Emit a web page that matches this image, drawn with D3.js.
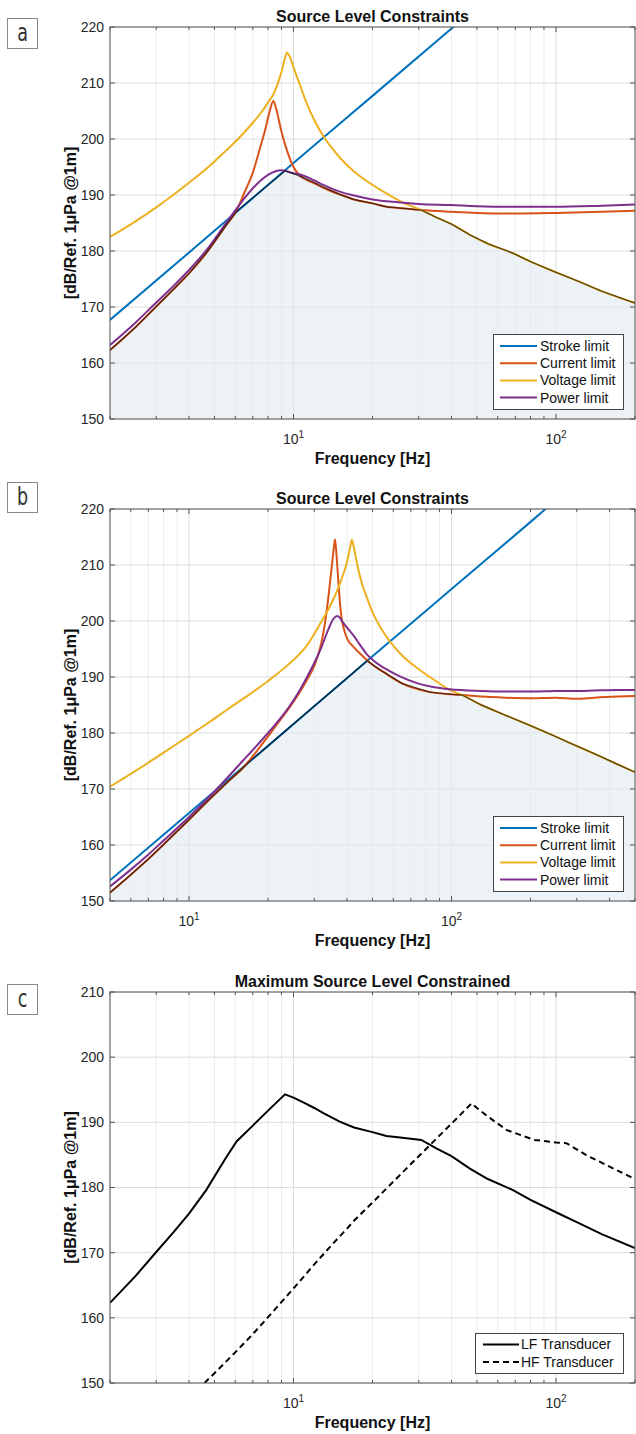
<!DOCTYPE html>
<html><head><meta charset="utf-8">
<script src="https://cdn.jsdelivr.net/npm/d3@7"></script>
<style>body{margin:0;background:#fff}svg{display:block}</style>
</head><body>
<svg id="chart" width="636" height="1434"></svg>
<script>
// ---------- Panel a (LF transducer constraints) ----------
const aStrokeFreq = [2, 5, 10, 20, 50];
const aStrokeLevel = [167.7, 183.6, 195.7, 207.7, 223.6];
const aCurrentFreq = [2, 2.5, 3, 3.5, 4, 4.65, 5.5, 6.08, 6.5, 7, 7.5, 7.8, 8.1, 8.38, 8.6, 9, 9.5, 10, 10.5, 11, 12, 13, 15, 17, 20, 22.6, 25, 30.7, 40, 50, 70, 100, 150, 200];
const aCurrentLevel = [162.3, 166.4, 170.1, 173.2, 176.0, 179.6, 184.4, 187.3, 190.4, 194.0, 198.8, 201.6, 204.8, 206.8, 205.3, 201.3, 197.6, 195.0, 193.6, 192.9, 192.1, 191.3, 190.1, 189.2, 188.5, 187.9, 187.7, 187.3, 187.0, 186.8, 186.7, 186.8, 187.0, 187.2];
const aVoltageFreq = [2, 2.5, 3, 3.5, 4, 4.5, 5, 5.5, 6, 6.5, 7, 7.5, 8, 8.38, 8.7, 9, 9.25, 9.44, 9.7, 10, 10.6, 11.2, 12, 13, 14, 15, 17, 19, 22, 26, 30.7, 35, 40, 47, 55, 68.6, 80, 100, 120, 150, 200];
const aVoltageLevel = [182.5, 185.3, 187.8, 190.1, 192.2, 194.1, 196.0, 197.8, 199.5, 201.2, 202.9, 204.6, 206.5, 208.0, 209.8, 212.0, 214.2, 215.4, 214.6, 212.8, 209.6, 206.5, 203.4, 200.5, 198.4, 196.7, 194.2, 192.5, 190.6, 188.7, 187.3, 186.0, 184.8, 182.9, 181.3, 179.6, 178.1, 176.2, 174.7, 172.8, 170.7];
const aPowerFreq = [2, 2.5, 3, 3.5, 4, 4.65, 5.5, 6.08, 6.5, 7, 7.5, 8, 8.5, 9, 9.28, 9.5, 10, 10.5, 11, 12, 13, 15, 17, 20, 25, 30, 40, 50, 70, 100, 150, 200];
const aPowerLevel = [163.2, 167.2, 170.8, 173.8, 176.6, 180.1, 184.8, 187.6, 189.4, 191.2, 192.6, 193.6, 194.2, 194.4, 194.35, 194.2, 193.9, 193.7, 193.4, 192.6, 191.8, 190.6, 189.9, 189.2, 188.7, 188.4, 188.2, 188.0, 187.9, 187.9, 188.1, 188.3];

// ---------- Panel b (HF transducer constraints) ----------
const bStrokeFreq = [5, 10, 20, 50, 100, 200, 300];
const bStrokeLevel = [153.7, 165.7, 177.7, 193.7, 205.7, 217.7, 224.8];
const bCurrentFreq = [5, 6, 7, 8, 10, 12, 14, 16, 18, 20, 22, 24, 26, 28, 30, 31, 32, 33, 34, 35, 35.6, 36, 36.5, 37, 37.5, 38, 39, 40, 42.5, 45, 47.7, 50, 55, 65, 82.7, 100, 109.6, 130, 160, 200, 250, 300, 350, 433, 500];
const bCurrentLevel = [151.5, 154.7, 157.5, 160.1, 164.5, 168.2, 171.2, 173.7, 176.6, 179.4, 182.0, 184.4, 186.8, 189.3, 192.0, 193.9, 196.3, 199.8, 204.5, 209.8, 213.0, 214.6, 211.5, 207.5, 203.8, 201.0, 198.4, 196.9, 195.3, 194.1, 193.0, 192.2, 190.9, 188.8, 187.3, 186.9, 186.8, 186.5, 186.3, 186.2, 186.3, 186.1, 186.3, 186.5, 186.6];
const bVoltageFreq = [5, 6, 7, 8, 10, 12, 14, 17, 20, 24, 28, 31.5, 35.4, 38, 40, 41, 41.7, 42.5, 44, 45.5, 47.5, 50, 54, 58.3, 65, 76, 87, 98.4, 109.6, 130, 160, 200, 240, 283, 350, 420, 500];
const bVoltageLevel = [170.4, 172.7, 174.7, 176.5, 179.5, 182.0, 184.2, 186.9, 189.3, 192.3, 195.5, 199.4, 203.8, 207.3, 210.6, 212.9, 214.5, 213.0, 209.5, 206.8, 204.3, 201.6, 198.6, 196.3, 193.8, 191.2, 189.3, 187.7, 186.8, 185.0, 183.2, 181.3, 179.7, 178.2, 176.3, 174.6, 173.0];
const bPowerFreq = [5, 6, 7, 8, 10, 12, 14, 16, 18, 20, 22, 24, 26, 28, 30, 32, 34, 35.5, 36.7, 37.5, 38.5, 40, 42.5, 45, 47.5, 50, 56.8, 63, 73.8, 85, 98.4, 130, 160, 205, 250, 300, 350, 433, 500];
const bPowerLevel = [152.6, 155.6, 158.3, 160.8, 165.0, 168.7, 172.0, 175.0, 177.6, 180.0, 182.3, 184.6, 187.1, 189.8, 192.5, 195.4, 198.6, 200.4, 200.9, 200.6, 199.8, 198.8, 197.3, 195.6, 194.1, 193.1, 191.3, 190.2, 188.9, 188.2, 187.8, 187.5, 187.4, 187.4, 187.5, 187.5, 187.6, 187.7, 187.7];

// ---------- Maximum constrained source level (envelopes, panel c) ----------
const lfFreq = [2, 2.5, 3, 3.5, 4, 4.65, 5.5, 6.08, 7, 8, 9.28, 10, 11, 12, 13, 15, 17, 20, 22.6, 25, 30.7, 35, 40, 47, 55, 68.6, 80, 100, 120, 150, 200];
const lfLevel = [162.3, 166.4, 170.1, 173.2, 176.0, 179.6, 184.4, 187.1, 189.5, 191.8, 194.3, 193.8, 193.0, 192.2, 191.4, 190.1, 189.2, 188.5, 187.9, 187.7, 187.3, 186.0, 184.8, 182.9, 181.3, 179.6, 178.1, 176.2, 174.7, 172.8, 170.7];
const hfFreq = [4.58, 5, 6, 7, 8, 10, 12, 14, 16, 17, 20, 30, 40, 47.7, 50, 55, 65, 82.7, 100, 109.6, 130, 160, 200, 240, 283, 350, 420, 500];
const hfLevel = [150.0, 151.5, 154.7, 157.5, 160.1, 164.5, 168.2, 171.2, 173.7, 174.9, 177.7, 184.8, 189.8, 192.9, 192.2, 190.9, 188.8, 187.3, 186.9, 186.8, 185.0, 183.2, 181.3, 179.7, 178.2, 176.3, 174.6, 173.0];

const limitNames = ["Stroke limit", "Current limit", "Voltage limit", "Power limit"];
const limitColors = ["#0072BD", "#D95319", "#EDB120", "#7E2F8E"];
const transducerNames = ["LF Transducer", "HF Transducer"];
const titles = ["Source Level Constraints", "Source Level Constraints", "Maximum Source Level Constrained"];
const yLabelText = "[dB/Ref. 1\u03bcPa @1m]";
const xLabelText = "Frequency [Hz]";
const panelLetters = ["a", "b", "c"];

const zip = (f, v) => f.map((d, i) => ({f: d, v: v[i]}));

const panels = [
  {letter: panelLetters[0], title: titles[0], top: 27, bottom: 419, xDom: [2, 200], yDom: [150, 220], boxY: 18, kind: "limits",
   series: [zip(aStrokeFreq, aStrokeLevel), zip(aCurrentFreq, aCurrentLevel), zip(aVoltageFreq, aVoltageLevel), zip(aPowerFreq, aPowerLevel)],
   env: zip(lfFreq, lfLevel)},
  {letter: panelLetters[1], title: titles[1], top: 509, bottom: 901, xDom: [5, 500], yDom: [150, 220], boxY: 482, kind: "limits",
   series: [zip(bStrokeFreq, bStrokeLevel), zip(bCurrentFreq, bCurrentLevel), zip(bVoltageFreq, bVoltageLevel), zip(bPowerFreq, bPowerLevel)],
   env: zip(hfFreq, hfLevel)},
  {letter: panelLetters[2], title: titles[2], top: 992, bottom: 1383, xDom: [2, 200], yDom: [150, 210], boxY: 984, kind: "final",
   series: [zip(lfFreq, lfLevel), zip(hfFreq, hfLevel)]}
];

const L = 110, R = 635;
const FONT = "'Liberation Sans', Arial, Helvetica, sans-serif";
const AX = "#555";
const svg = d3.select("#chart");

panels.forEach((p, pi) => {
  const x = d3.scaleLog().domain(p.xDom).range([L, R]);
  const y = d3.scaleLinear().domain(p.yDom).range([p.bottom, p.top]);
  const g = svg.append("g");
  const clipId = "clip" + pi;
  g.append("clipPath").attr("id", clipId).append("rect")
    .attr("x", L).attr("y", p.top).attr("width", R - L).attr("height", p.bottom - p.top);

  const xt = x.ticks();
  const isMajor = t => Math.abs(Math.log10(t) - Math.round(Math.log10(t))) < 1e-9;
  const majors = xt.filter(isMajor);
  const minors = xt.filter(t => !isMajor(t));
  const yt = d3.range(p.yDom[0], p.yDom[1] + 0.1, 10);

  // grid
  g.append("g").selectAll("line").data(minors).join("line")
    .attr("x1", d => x(d)).attr("x2", d => x(d)).attr("y1", p.top).attr("y2", p.bottom)
    .attr("stroke", "#ececec").attr("stroke-width", 1);
  g.append("g").selectAll("line").data(majors).join("line")
    .attr("x1", d => x(d)).attr("x2", d => x(d)).attr("y1", p.top).attr("y2", p.bottom)
    .attr("stroke", "#dcdcdc").attr("stroke-width", 1);
  g.append("g").selectAll("line").data(yt).join("line")
    .attr("x1", L).attr("x2", R).attr("y1", d => y(d)).attr("y2", d => y(d))
    .attr("stroke", "#dcdcdc").attr("stroke-width", 1);

  const plot = g.append("g").attr("clip-path", `url(#${clipId})`);
  const lineSmooth = d3.line().x(d => x(d.f)).y(d => y(d.v)).curve(d3.curveMonotoneX);
  const lineLin = d3.line().x(d => x(d.f)).y(d => y(d.v));

  if (p.kind === "limits") {
    const area = d3.area().x(d => x(d.f)).y0(p.bottom).y1(d => y(d.v));
    plot.append("path").datum(p.env).attr("d", area)
      .attr("fill", "#e1eaf0").attr("fill-opacity", 0.62);
    p.series.forEach((s, i) => {
      plot.append("path").datum(s).attr("d", lineSmooth)
        .attr("fill", "none").attr("stroke", limitColors[i]).attr("stroke-width", 2);
    });
    plot.append("path").datum(p.env).attr("d", lineLin)
      .attr("fill", "none").attr("stroke", "#000").attr("stroke-opacity", 0.6).attr("stroke-width", 1.4);
  } else {
    p.series.forEach((s, i) => {
      plot.append("path").datum(s).attr("d", lineLin)
        .attr("fill", "none").attr("stroke", "#000").attr("stroke-width", 2)
        .attr("stroke-dasharray", i === 1 ? "6,4" : null);
    });
  }

  // axes box + ticks
  g.append("rect").attr("x", L).attr("y", p.top).attr("width", R - L).attr("height", p.bottom - p.top)
    .attr("fill", "none").attr("stroke", AX).attr("stroke-width", 1);
  const tk = g.append("g").attr("stroke", AX).attr("stroke-width", 1);
  xt.forEach(t => {
    const len = isMajor(t) ? 5 : 3;
    tk.append("line").attr("x1", x(t)).attr("x2", x(t)).attr("y1", p.bottom).attr("y2", p.bottom - len);
    tk.append("line").attr("x1", x(t)).attr("x2", x(t)).attr("y1", p.top).attr("y2", p.top + len);
  });
  yt.forEach(t => {
    tk.append("line").attr("x1", L).attr("x2", L + 5).attr("y1", y(t)).attr("y2", y(t));
    tk.append("line").attr("x1", R).attr("x2", R - 5).attr("y1", y(t)).attr("y2", y(t));
  });

  // y tick labels
  g.append("g").selectAll("text").data(yt).join("text")
    .attr("x", L - 6).attr("y", d => y(d)).attr("dy", "0.35em")
    .attr("text-anchor", "end").attr("font-family", FONT).attr("font-size", 14).attr("fill", "#262626")
    .text(d => d);
  // x tick labels (10^n)
  majors.forEach(t => {
    const tx = g.append("text").attr("x", x(t)).attr("y", p.bottom + 25).attr("text-anchor", "middle")
      .attr("font-family", FONT).attr("font-size", 14).attr("fill", "#262626");
    tx.append("tspan").text("10");
    tx.append("tspan").attr("dy", -6).attr("font-size", 10).text(Math.round(Math.log10(t)));
  });

  // titles and labels
  g.append("text").attr("x", (L + R) / 2).attr("y", p.top - 5).attr("text-anchor", "middle")
    .attr("font-family", FONT).attr("font-size", 16).attr("font-weight", "bold").attr("fill", "#111")
    .text(p.title);
  g.append("text").attr("x", (L + R) / 2).attr("y", p.bottom + 45).attr("text-anchor", "middle")
    .attr("font-family", FONT).attr("font-size", 16).attr("font-weight", "bold").attr("fill", "#111")
    .text(xLabelText);
  g.append("text").attr("transform", `translate(76,${(p.top + p.bottom) / 2}) rotate(-90)`)
    .attr("text-anchor", "middle").attr("font-family", FONT).attr("font-size", 16)
    .attr("font-weight", "bold").attr("fill", "#111").text(yLabelText);

  // panel letter box
  g.append("rect").attr("x", 7.5).attr("y", p.boxY + 0.5).attr("width", 30).attr("height", 30)
    .attr("fill", "#fff").attr("stroke", "#8a8a8a").attr("stroke-width", 1);
  g.append("text").attr("transform", `translate(22.5,${p.boxY + 23}) scale(0.78,1)`)
    .attr("text-anchor", "middle")
    .attr("font-family", "'Liberation Sans Narrow', 'DejaVu Sans Condensed', 'Noto Sans', sans-serif")
    .attr("font-size", 25).attr("fill", "#333").text(p.letter);

  // legend
  if (p.kind === "limits") {
    const lw = 130, lh = 75, lx = 493, ly = p.bottom - 10 - lh;
    g.append("rect").attr("x", lx + 0.5).attr("y", ly + 0.5).attr("width", lw).attr("height", lh)
      .attr("fill", "#fff").attr("stroke", "#444").attr("stroke-width", 1);
    limitNames.forEach((n, i) => {
      const yy = ly + 12 + i * 17.2;
      g.append("line").attr("x1", lx + 7).attr("x2", lx + 44).attr("y1", yy).attr("y2", yy)
        .attr("stroke", limitColors[i]).attr("stroke-width", 2);
      g.append("text").attr("x", lx + 47).attr("y", yy).attr("dy", "0.35em")
        .attr("font-family", FONT).attr("font-size", 14).attr("fill", "#111").text(n);
    });
  } else {
    const lw = 148, lh = 40, lx = 475, ly = p.bottom - 10 - lh;
    g.append("rect").attr("x", lx + 0.5).attr("y", ly + 0.5).attr("width", lw).attr("height", lh)
      .attr("fill", "#fff").attr("stroke", "#444").attr("stroke-width", 1);
    transducerNames.forEach((n, i) => {
      const yy = ly + 11.5 + i * 17.5;
      g.append("line").attr("x1", lx + 8).attr("x2", lx + 44).attr("y1", yy).attr("y2", yy)
        .attr("stroke", "#000").attr("stroke-width", 2).attr("stroke-dasharray", i === 1 ? "6,4" : null);
      g.append("text").attr("x", lx + 46).attr("y", yy).attr("dy", "0.35em")
        .attr("font-family", FONT).attr("font-size", 14).attr("fill", "#111").text(n);
    });
  }
});
</script>
</body></html>
